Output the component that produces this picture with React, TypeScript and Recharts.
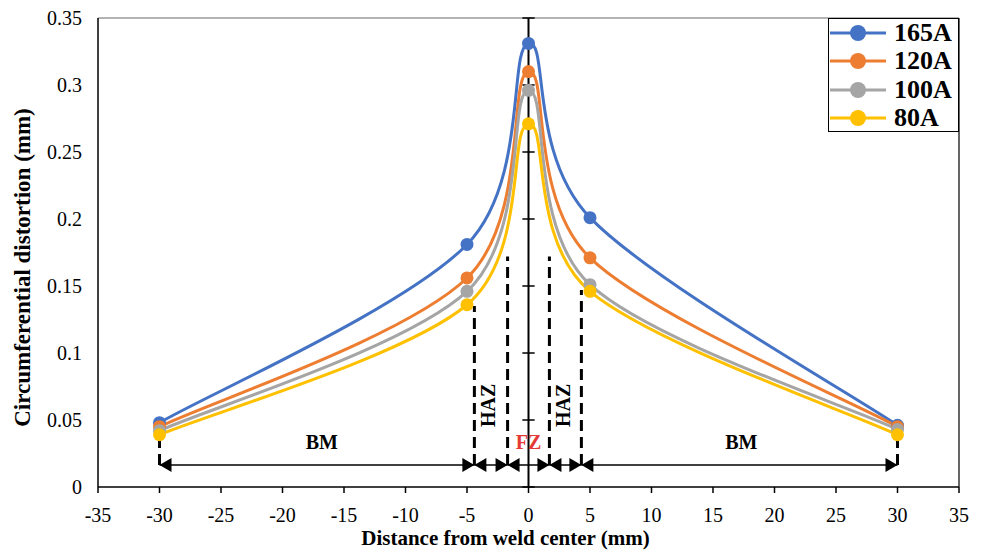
import {
  LineChart,
  Line,
  XAxis,
  YAxis,
  ReferenceLine,
  ReferenceDot,
  Legend,
} from 'recharts';

const distances = [-30, -5, 0, 5, 30];
const amp165 = [0.048, 0.181, 0.331, 0.201, 0.046];
const amp120 = [0.045, 0.156, 0.31, 0.171, 0.045];
const amp100 = [0.042, 0.146, 0.296, 0.151, 0.043];
const amp80 = [0.039, 0.136, 0.271, 0.146, 0.039];

const xTicks = [-35, -30, -25, -20, -15, -10, -5, 0, 5, 10, 15, 20, 25, 30, 35];
const yTicks = [0, 0.05, 0.1, 0.15, 0.2, 0.25, 0.3, 0.35];

const series = [
  { name: '165A', values: amp165, color: '#4472C4' },
  { name: '120A', values: amp120, color: '#ED7D31' },
  { name: '100A', values: amp100, color: '#A5A5A5' },
  { name: '80A', values: amp80, color: '#FFC000' },
];

// zone annotation (BM / HAZ / FZ / HAZ / BM)
const zoneBounds = [-30, -4.4, -1.7, 1.7, 4.3, 30];
const zoneTops = [0.04, 0.135, 0.172, 0.172, 0.147, 0.04];
const arrowY = 0.0165;
const zoneLabels = [
  { text: 'BM', x: -16.8, y: 0.034, rotate: false, color: '#000' },
  { text: 'HAZ', x: -3.3, y: 0.061, rotate: true, color: '#000' },
  { text: 'FZ', x: 0, y: 0.034, rotate: false, color: '#E53935' },
  { text: 'HAZ', x: 2.8, y: 0.061, rotate: true, color: '#000' },
  { text: 'BM', x: 17.3, y: 0.034, rotate: false, color: '#000' },
];

const data = distances.map((x, i) => {
  const row: any = { x };
  series.forEach((s) => (row[s.name] = s.values[i]));
  return row;
});

const font = "'Liberation Serif', 'Times New Roman', serif";

// Excel-like smoothed line (Catmull-Rom style bezier)
function excelSmooth(context: any) {
  let pts: number[][] = [];
  return {
    areaStart() {},
    areaEnd() {},
    lineStart() {
      pts = [];
    },
    point(x: number, y: number) {
      pts.push([+x, +y]);
    },
    lineEnd() {
      const n = pts.length;
      if (!n) return;
      context.moveTo(pts[0][0], pts[0][1]);
      for (let i = 0; i < n - 1; i++) {
        const p0 = pts[Math.max(i - 1, 0)];
        const p1 = pts[i];
        const p2 = pts[i + 1];
        const p3 = pts[Math.min(i + 2, n - 1)];
        context.bezierCurveTo(
          p1[0] + (p2[0] - p0[0]) / 6,
          p1[1] + (p2[1] - p0[1]) / 6,
          p2[0] - (p3[0] - p1[0]) / 6,
          p2[1] - (p3[1] - p1[1]) / 6,
          p2[0],
          p2[1],
        );
      }
    },
  };
}

const XTick = (props: any) => {
  const { x, y, payload } = props;
  return (
    <text x={x} y={y} dy="0.71em" textAnchor="middle" fill="#000" fontSize={20} style={{ fontFamily: font }}>
      {payload.value}
    </text>
  );
};

const YTick = (props: any) => {
  const { x, y, payload } = props;
  return (
    <text x={x} y={y} dy="0.36em" textAnchor="end" fill="#000" fontSize={20} style={{ fontFamily: font }}>
      {payload.value}
    </text>
  );
};

const ArrowShape = (props: any) => {
  const { x1, y1, x2, y2 } = props;
  const h = 12;
  const w = 7;
  return (
    <g>
      <line x1={x1} y1={y1} x2={x2} y2={y2} stroke="#000" strokeWidth={1.5} />
      <polygon points={`${x1},${y1} ${x1 + h},${y1 - w} ${x1 + h},${y1 + w}`} fill="#000" />
      <polygon points={`${x2},${y2} ${x2 - h},${y2 - w} ${x2 - h},${y2 + w}`} fill="#000" />
    </g>
  );
};

const XTitle = (props: any) => {
  const { viewBox } = props;
  return (
    <text
      x={viewBox.x + viewBox.width / 2 - 23}
      y={viewBox.y + 58}
      textAnchor="middle"
      style={{ fontFamily: font }}
      fontWeight="bold"
      fontSize={21}
      fill="#000"
    >
      Distance from weld center (mm)
    </text>
  );
};

const YTitle = (props: any) => {
  const { viewBox } = props;
  const cx = viewBox.x + 30;
  const cy = viewBox.y + viewBox.height / 2 + 15;
  return (
    <text
      x={cx}
      y={cy}
      transform={`rotate(-90 ${cx} ${cy})`}
      textAnchor="middle"
      style={{ fontFamily: font }}
      fontWeight="bold"
      fontSize={23}
      fill="#000"
    >
      Circumferential distortion (mm)
    </text>
  );
};

const LegendBox = () => (
  <div
    style={{
      border: '1.5px solid #000',
      background: '#fff',
      width: 131,
      height: 114,
      overflow: 'hidden',
      paddingLeft: 1,
      fontFamily: font,
      boxSizing: 'border-box',
    }}
  >
    {series.map((s) => (
      <div key={s.name} style={{ display: 'flex', alignItems: 'center', height: 28.3 }}>
        <svg width={58} height={18}>
          <line x1={0} y1={9} x2={56} y2={9} stroke={s.color} strokeWidth={3} />
          <circle cx={28} cy={9} r={8} fill={s.color} />
        </svg>
        <span style={{ fontWeight: 'bold', fontSize: 26, marginLeft: 6, lineHeight: '28px' }}>
          {s.name}
        </span>
      </div>
    ))}
  </div>
);

export default function App() {
  return (
    <div style={{ position: 'absolute', left: 0, top: 0, background: '#fff', fontFamily: font }}>
      <LineChart
        width={984}
        height={550}
        data={data}
        margin={{ top: 18, right: 25, bottom: 0, left: 0 }}
        style={{ fontFamily: font }}
      >
        <XAxis
          dataKey="x"
          type="number"
          domain={[-35, 35]}
          ticks={xTicks}
          height={63}
          axisLine={{ stroke: '#000', strokeWidth: 1.5 }}
          tickLine={{ stroke: '#000', strokeWidth: 1.5 }}
          tickSize={6}
          tickMargin={15}
          tick={<XTick />}
          label={<XTitle />}
        />
        <YAxis
          type="number"
          domain={[0, 0.35]}
          ticks={yTicks}
          width={98}
          axisLine={{ stroke: '#000', strokeWidth: 1.5 }}
          tickLine={false}
          tickSize={8}
          tickMargin={8}
          tick={<YTick />}
          label={<YTitle />}
        />
        <ReferenceLine y={0.35} stroke="#9a9a9a" strokeWidth={1.5} />
        <ReferenceLine x={35} stroke="#333" strokeWidth={1.5} />
        <ReferenceLine x={0} stroke="#000" strokeWidth={2} />
        {yTicks.map((t) => (
          <ReferenceLine
            key={`ct-${t}`}
            segment={[
              { x: -0.5, y: t },
              { x: 0.5, y: t },
            ]}
            stroke="#000"
            strokeWidth={1.5}
          />
        ))}
        {series.map((s) => (
          <Line
            key={s.name}
            type={excelSmooth as any}
            dataKey={s.name}
            name={s.name}
            stroke={s.color}
            strokeWidth={3}
            dot={{ r: 6.5, fill: s.color, stroke: s.color, strokeWidth: 0 }}
            activeDot={false}
            isAnimationActive={false}
          />
        ))}
        {zoneBounds.map((b, i) => (
          <ReferenceLine
            key={`zd-${i}`}
            segment={[
              { x: b, y: arrowY },
              { x: b, y: zoneTops[i] },
            ]}
            stroke="#000"
            strokeWidth={3}
            strokeDasharray="11 6"
          />
        ))}
        {zoneBounds.slice(0, -1).map((b, i) => (
          <ReferenceLine
            key={`za-${i}`}
            segment={[
              { x: b, y: arrowY },
              { x: zoneBounds[i + 1], y: arrowY },
            ]}
            shape={ArrowShape}
          />
        ))}
        {zoneLabels.map((z, i) => (
          <ReferenceDot
            key={`zl-${i}`}
            x={z.x}
            y={z.y}
            r={0}
            fill="none"
            stroke="none"
            label={{
              value: z.text,
              position: 'center',
              angle: z.rotate ? -90 : 0,
              fill: z.color,
              fontWeight: 'bold',
              fontSize: 20,
              fontFamily: font,
            }}
          />
        ))}
        <Legend
          layout="horizontal"
          verticalAlign="middle"
          align="center"
          content={<LegendBox />}
          wrapperStyle={{ position: 'absolute', left: 828, top: 18, width: 131 }}
        />
      </LineChart>
    </div>
  );
}
